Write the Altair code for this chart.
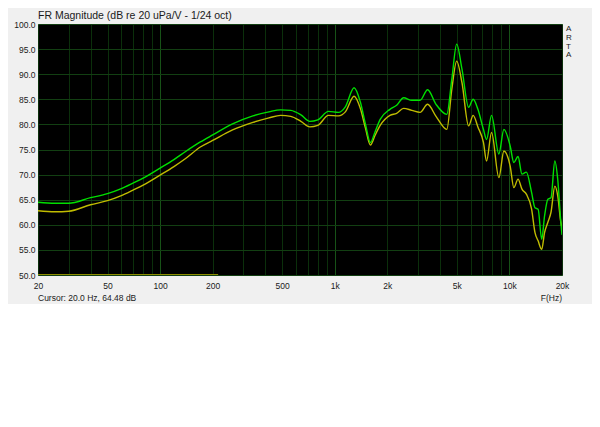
import altair as alt
import pandas as pd

# ---- data ----
freqs = [20, 25, 30, 40, 50, 60, 70, 80, 100, 120, 140, 170, 200, 260, 340, 420,
         490, 560, 640, 720, 800, 920, 1050, 1150, 1290, 1400, 1500, 1600, 1700,
         1820, 2070, 2260, 2480, 2760, 3080, 3400, 3800, 4380, 4680, 4990, 5350,
         5840, 6200, 6600, 7100, 7400, 7900, 8700, 9300, 10100, 10600, 11200,
         11800, 12500, 13400, 14000, 14600, 15300, 15900, 16600, 17300, 18200,
         18900, 19700, 20000]

green_db = [64.5, 64.3, 64.3, 65.4, 66.2, 67.2, 68.3, 69.3, 71.3, 73.0, 74.6, 76.5,
            77.9, 80.1, 81.7, 82.5, 82.9, 82.8, 81.9, 80.6, 80.9, 82.6, 82.4, 83.5,
            87.3, 84.5, 80.0, 76.4, 78.5, 81.0, 83.0, 83.8, 85.3, 84.8, 84.8, 86.9,
            84.0, 82.0, 89.0, 96.0, 91.0, 83.4, 85.0, 83.0, 79.0, 77.0, 81.8, 74.1,
            79.0, 75.7, 72.4, 73.6, 70.1, 70.5, 66.4, 63.4, 63.1, 57.1, 61.8, 65.1,
            65.4, 72.7, 69.1, 60.5, 58.0]

yellow_db = [62.8, 62.6, 62.7, 64.0, 64.8, 65.8, 66.9, 67.9, 69.9, 71.6, 73.2, 75.5,
             76.8, 78.9, 80.4, 81.3, 81.8, 81.6, 80.6, 79.5, 79.8, 81.8, 81.7, 82.5,
             85.6, 83.2, 79.2, 75.9, 77.8, 79.8, 81.8, 82.2, 83.2, 82.8, 82.4, 84.0,
             81.6, 79.0, 87.0, 92.6, 88.3, 79.7, 81.8, 79.5, 76.4, 72.7, 78.4, 69.4,
             74.7, 71.7, 67.4, 69.1, 67.1, 66.1, 63.1, 58.5, 56.8, 55.1, 58.5, 60.5,
             62.5, 67.7, 65.8, 60.5, 59.5]

base_freqs = [20, 215]
base_db = [50, 50]

grid_freqs = [20, 30, 40, 50, 60, 70, 80, 90,
              100, 200, 300, 400, 500, 600, 700, 800, 900,
              1000, 2000, 3000, 4000, 5000, 6000, 7000, 8000, 9000,
              10000, 20000]
y_ticks = [50, 55, 60, 65, 70, 75, 80, 85, 90, 95, 100]

title_text = "FR Magnitude (dB re 20 uPa/V - 1/24 oct)"
cursor_text = "Cursor: 20.0 Hz, 64.48 dB"
unit_text = "F(Hz)"
brand_text = "A\nR\nT\nA"

FONT = "Liberation Sans, Arial, sans-serif"

green_df = pd.DataFrame({"f": freqs, "db": green_db})
yellow_df = pd.DataFrame({"f": freqs, "db": yellow_db})
base_df = pd.DataFrame({"f": base_freqs, "db": base_db})

x_scale = alt.Scale(type="log", domain=[20, 20000], nice=False)
y_scale = alt.Scale(domain=[50, 100], nice=False, zero=False)

label_expr = ("indexof([20,50,100,200,500,1000,2000,5000,10000,20000], datum.value) >= 0 ? "
              "(datum.value >= 1000 ? (datum.value/1000) + 'k' : '' + datum.value) : ''")

x_axis = alt.Axis(values=grid_freqs, labelExpr=label_expr, title=None, domain=False,
                  ticks=False, labelPadding=6, labelOverlap=False, labelFlush=False,
                  labelBound=False, grid=True,
                  gridColor=alt.condition("datum.value == 100 || datum.value == 1000 || datum.value == 10000",
                                          alt.value("#175217"), alt.value("#0b2f0b")),
                  labelFontSize=8.5, labelColor="#1a1a1a", labelFont=FONT)
y_axis = alt.Axis(values=y_ticks, tickCount=11, format=".1f", title=None, domain=False,
                  ticks=False, labelPadding=3, grid=True, gridColor="#123f12",
                  labelFontSize=8.5, labelColor="#1a1a1a", labelFont=FONT,
                  labelOverlap=False, labelFlush=False)


def enc(ch):
    return ch.encode(
        x=alt.X("f:Q", scale=x_scale, axis=x_axis),
        y=alt.Y("db:Q", scale=y_scale, axis=y_axis),
    )


base_line = enc(alt.Chart(base_df).mark_line(color="#8c8c00", strokeWidth=2, clip=True))
yellow_line = enc(alt.Chart(yellow_df).mark_line(color="#c0bc00", strokeWidth=1.4,
                                                  interpolate="monotone", clip=True))
green_line = enc(alt.Chart(green_df).mark_line(color="#00e000", strokeWidth=1.4,
                                                interpolate="monotone", clip=True))

title_mark = alt.Chart(pd.DataFrame({"t": [title_text]})).mark_text(
    align="left", baseline="alphabetic", fontSize=10.5, font=FONT, color="#1a1a1a"
).encode(x=alt.value(0), y=alt.value(-5), text="t:N")

cursor_mark = alt.Chart(pd.DataFrame({"t": [cursor_text]})).mark_text(
    align="left", baseline="alphabetic", fontSize=8.5, font=FONT, color="#1a1a1a"
).encode(x=alt.value(0), y=alt.value(277), text="t:N")

unit_mark = alt.Chart(pd.DataFrame({"t": [unit_text]})).mark_text(
    align="right", baseline="alphabetic", fontSize=8.5, font=FONT, color="#1a1a1a"
).encode(x=alt.value(524), y=alt.value(277), text="t:N")

brand_mark = alt.Chart(pd.DataFrame({"t": [brand_text]})).mark_text(
    align="left", baseline="alphabetic", fontSize=8, font=FONT, color="#1a1a1a",
    lineBreak="\n", lineHeight=8.8
).encode(x=alt.value(528), y=alt.value(7), text="t:N")

chart = alt.layer(
    base_line, yellow_line, green_line, title_mark, cursor_mark, unit_mark, brand_mark
).properties(
    width=524, height=251,
    autosize=alt.AutoSizeParams(type="none"),
    padding={"left": 30, "top": 16, "right": 30, "bottom": 29},
    background="#f0f0f0",
).configure_view(
    fill="#000000", stroke="#7cc87c", strokeWidth=1
)

chart.save("out.html", embed_options={"renderer": "svg", "actions": False})
